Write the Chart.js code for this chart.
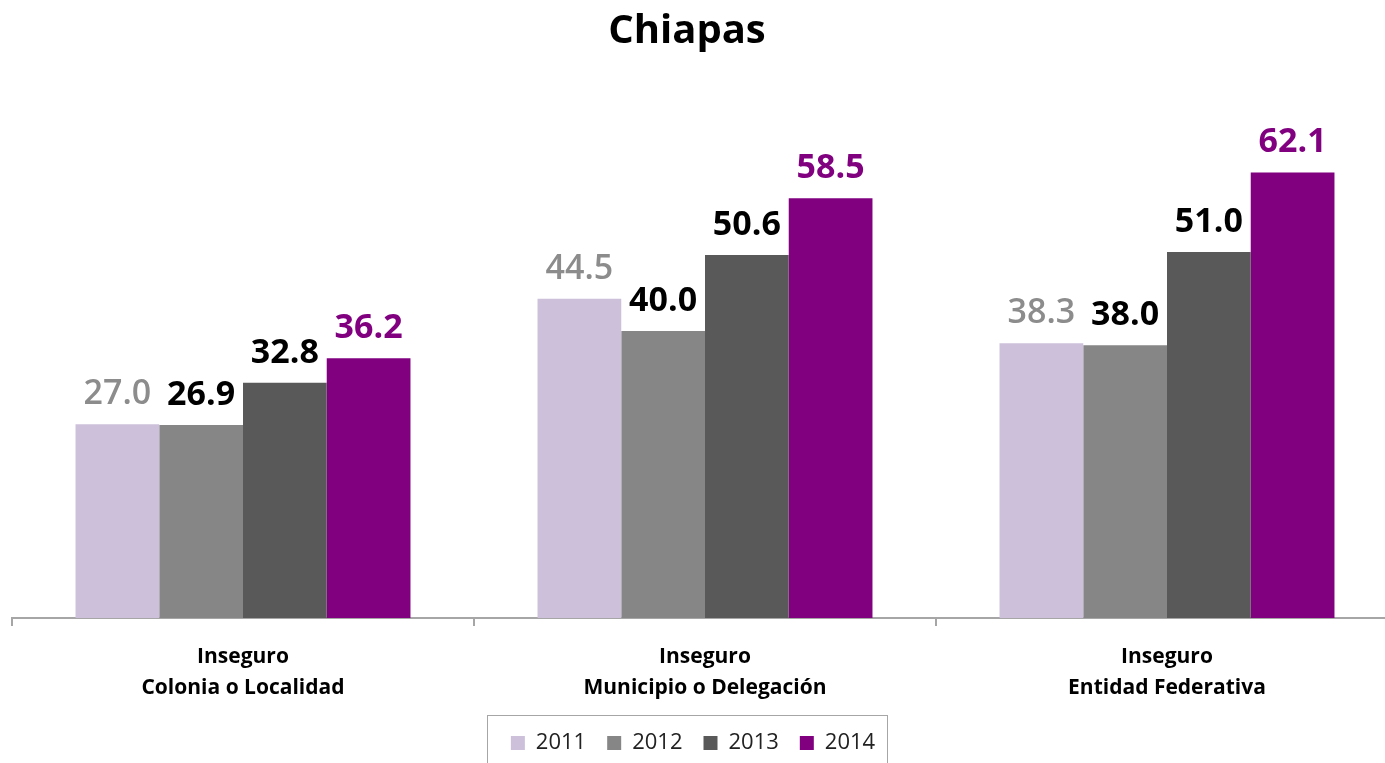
<!DOCTYPE html>
<html>
<head>
<meta charset="utf-8">
<script src="https://cdn.jsdelivr.net/npm/chart.js@4/dist/chart.umd.min.js"></script>
<style>
  html, body { margin: 0; padding: 0; background: #fff; overflow: hidden; }
  #wrap { width: 1398px; height: 764px; position: relative; }
</style>
</head>
<body>
<div id="wrap"><canvas id="chart"></canvas></div>
<script>
const categories = [
    ['Inseguro', 'Colonia o Localidad'],
    ['Inseguro', 'Municipio o Delegación'],
    ['Inseguro', 'Entidad Federativa']
];
const years = ['2011', '2012', '2013', '2014'];
const values2011 = [27.0, 44.5, 38.3];
const values2012 = [26.9, 40.0, 38.0];
const values2013 = [32.8, 50.6, 51.0];
const values2014 = [36.2, 58.5, 62.1];

const barColors = ['#ccc0da', '#868686', '#595959', '#800080'];
const labelColors = ['#8c8c8c', '#000000', '#000000', '#800080'];
const labelWeights = ['600', 'bold', 'bold', 'bold'];

// value labels above each bar
const barLabels = {
    id: 'barLabels',
    afterDatasetsDraw(chart) {
        const ctx = chart.ctx;
        ctx.save();
        ctx.textAlign = 'center';
        ctx.textBaseline = 'alphabetic';
        chart.data.datasets.forEach((ds, i) => {
            const meta = chart.getDatasetMeta(i);
            ctx.fillStyle = labelColors[i];
            ctx.font = labelWeights[i] + ' 34px "Open Sans"';
            meta.data.forEach((bar, j) => {
                ctx.fillText(ds.data[j].toFixed(1), bar.x, bar.y - 20);
            });
        });
        ctx.restore();
    }
};

// title & legend sit a bit left of the plot centre in the original
const shiftBoxes = {
    id: 'shiftBoxes',
    afterLayout(chart) {
        chart.titleBlock.left -= 18;
        chart.titleBlock.right -= 18;
        chart.legend.left -= 12;
        chart.legend.right -= 12;
    },
    afterDraw(chart) {
        const l = chart.legend;
        const ctx = chart.ctx;
        ctx.save();
        ctx.strokeStyle = '#a6a6a6';
        ctx.lineWidth = 1;
        const w = 400;
        const x = Math.round((l.left + l.right) / 2 - w / 2 - 6) + 0.5;
        ctx.strokeRect(x, Math.round(l.top) + 4.5, w, 60);
        ctx.restore();
    }
};

new Chart(document.getElementById('chart'), {
    type: 'bar',
    data: {
        labels: categories,
        datasets: years.map((y, i) => ({
            label: y,
            data: [values2011, values2012, values2013, values2014][i],
            backgroundColor: barColors[i],
            categoryPercentage: 0.725,
            barPercentage: 1.0
        }))
    },
    options: {
        responsive: true,
        maintainAspectRatio: false,
        animation: false,
        layout: { padding: { left: 12, right: 0, top: 0, bottom: 0 } },
        plugins: {
            title: {
                display: true,
                text: 'Chiapas',
                color: '#000',
                font: { family: 'Open Sans', size: 40, weight: 'bold' },
                padding: { top: 8, bottom: 54 }
            },
            legend: {
                position: 'bottom',
                labels: {
                    color: '#222',
                    font: { family: 'Open Sans', size: 22 },
                    boxWidth: 14,
                    boxHeight: 14,
                    padding: 21
                }
            },
            tooltip: { enabled: false }
        },
        scales: {
            x: {
                offset: true,
                afterFit(scale) { scale.height = 93; },
                border: { color: '#a6a6a6', width: 2 },
                grid: {
                    offset: true,
                    drawOnChartArea: false,
                    color: '#a6a6a6',
                    lineWidth: 2,
                    tickLength: 8
                },
                ticks: {
                    color: '#000',
                    font: { family: 'Open Sans', size: 21, weight: 'bold', lineHeight: 1.5 },
                    padding: 15,
                    maxRotation: 0
                }
            },
            y: {
                display: false,
                min: 0,
                max: 70.8
            }
        }
    },
    plugins: [barLabels, shiftBoxes]
});
</script>
</body>
</html>
